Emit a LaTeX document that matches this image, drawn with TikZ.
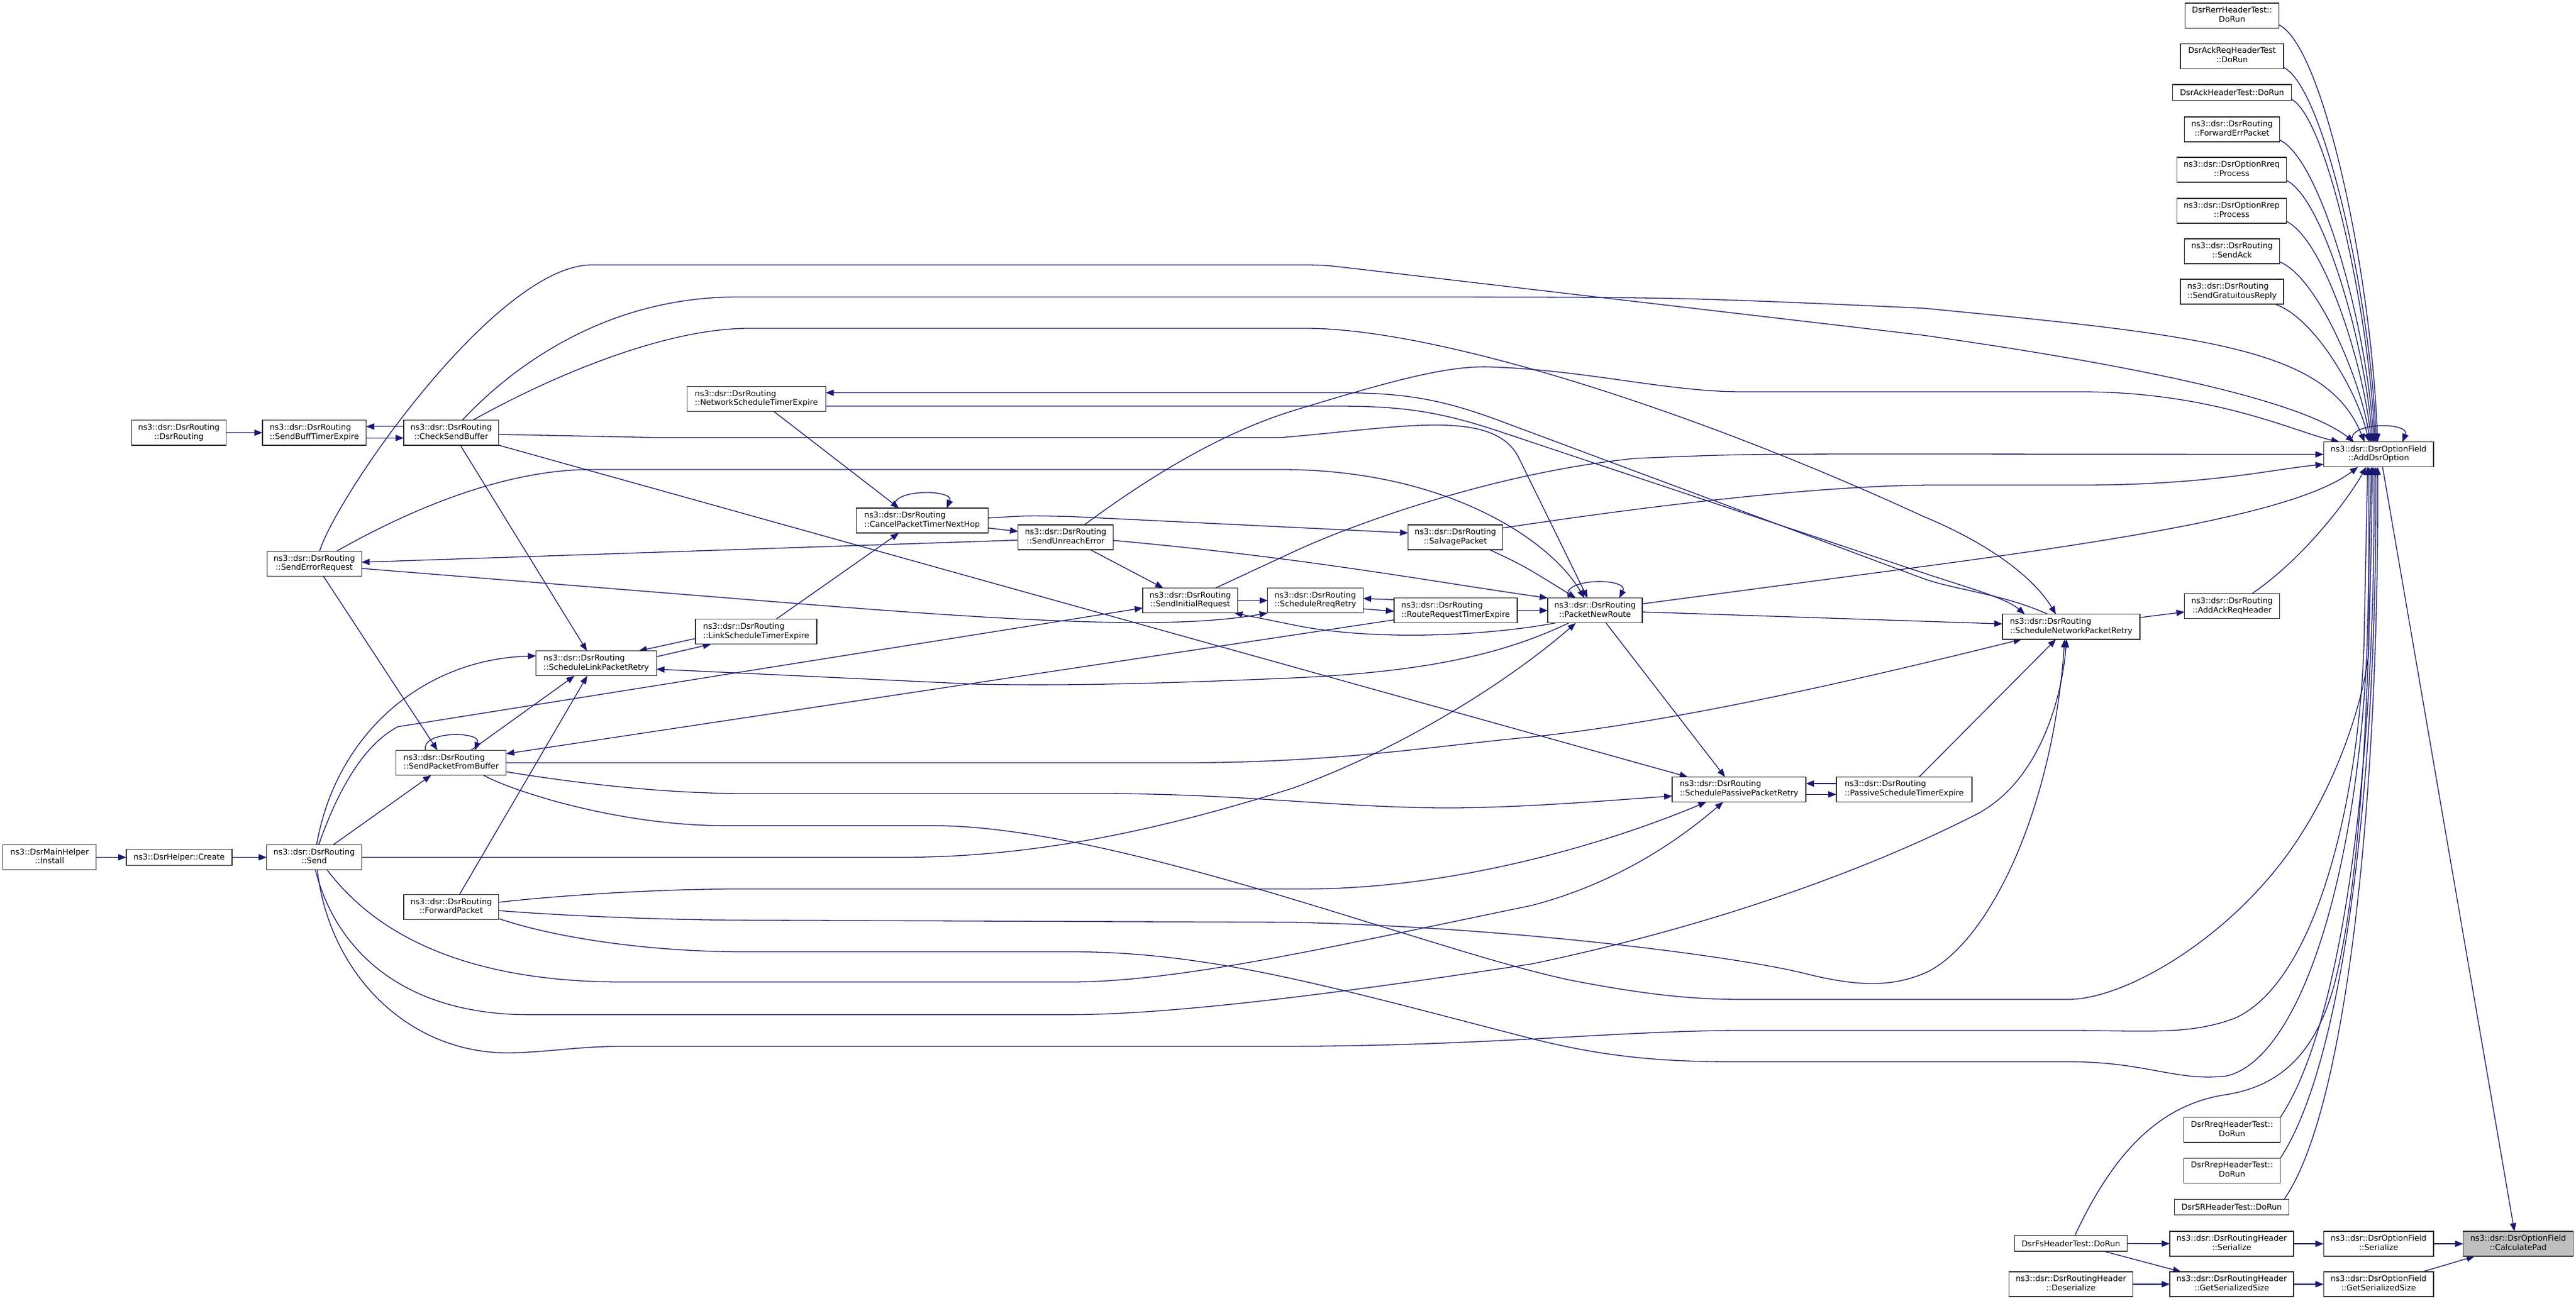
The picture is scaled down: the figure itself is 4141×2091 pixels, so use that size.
\documentclass[tikz,border=0pt]{standalone}
\usepackage{fontspec}
\setmainfont{DejaVu Sans}
\usetikzlibrary{arrows.meta}
\definecolor{edgecol}{HTML}{191970}
\definecolor{boxline}{HTML}{2E2E2E}
\definecolor{hlfill}{HTML}{BFBFBF}
\newcommand\twol[2]{\begin{tabular}{@{}l@{}}#1\\\multicolumn{1}{@{}c@{}}{#2}\end{tabular}}
\pgfdeclarelayer{bglayer}
\pgfdeclarelayer{edgelayer}
\pgfsetlayers{bglayer,edgelayer,main}
\begin{document}
\begin{tikzpicture}[x=1pt,y=-1pt,
  fnode/.style={draw=boxline, line width=1.3pt, fill=white, inner sep=0pt, outer sep=0pt, minimum height=40.2pt, font=\fontsize{12.8}{14.8}\selectfont},
  fnodeone/.style={fnode, minimum height=25.4pt},
  callarrow/.style={draw=edgecol, line width=1.3pt, -{Triangle[length=13pt,width=10pt]}}]
\begin{pgfonlayer}{bglayer}
\fill[white] (0,0) rectangle (4141,2091);
\end{pgfonlayer}
\useasboundingbox (0,0) rectangle (4141,2091);
% ---------------- nodes ----------------
\node[fnode, minimum width=152pt] (dsrr) at (287.6,695.8) {\twol{ns3::dsr::DsrRouting}{::DsrRouting}};
\node[fnode, minimum width=166.7pt] (sbte) at (505.2,695.8) {\twol{ns3::dsr::DsrRouting}{::SendBuffTimerExpire}};
\node[fnode, minimum width=152.7pt] (csb) at (725.3,695.8) {\twol{ns3::dsr::DsrRouting}{::CheckSendBuffer}};
\node[fnode, minimum width=152pt] (ser) at (505.2,906.5) {\twol{ns3::dsr::DsrRouting}{::SendErrorRequest}};
\node[fnode, minimum width=223pt] (nste) at (1215.8,641.5) {\twol{ns3::dsr::DsrRouting}{::NetworkScheduleTimerExpire}};
\node[fnode, minimum width=212.3pt] (cptnh) at (1482.3,837) {\twol{ns3::dsr::DsrRouting}{::CancelPacketTimerNextHop}};
\node[fnode, minimum width=152.7pt] (sue) at (1713,864) {\twol{ns3::dsr::DsrRouting}{::SendUnreachError}};
\node[fnode, minimum width=152.6pt] (sir) at (1913.3,965.6) {\twol{ns3::dsr::DsrRouting}{::SendInitialRequest}};
\node[fnode, minimum width=195pt] (lste) at (1215.5,1015.7) {\twol{ns3::dsr::DsrRouting}{::LinkScheduleTimerExpire}};
\node[fnode, minimum width=153.5pt] (srr) at (2114.5,965.6) {\twol{ns3::dsr::DsrRouting}{::ScheduleRreqRetry}};
\node[fnode, minimum width=152pt] (salv) at (2339.6,864) {\twol{ns3::dsr::DsrRouting}{::SalvagePacket}};
\node[fnode, minimum width=198.2pt] (rrte) at (2340,981.7) {\twol{ns3::dsr::DsrRouting}{::RouteRequestTimerExpire}};
\node[fnode, minimum width=152pt] (pnr) at (2564,981.7) {\twol{ns3::dsr::DsrRouting}{::PacketNewRoute}};
\node[fnode, minimum width=151.4pt] (rerr) at (3588,25.1) {\twol{DsrRerrHeaderTest::}{DoRun}};
\node[fnode, minimum width=166pt] (ackreq) at (3588,90.4) {\twol{DsrAckReqHeaderTest}{::DoRun}};
\node[fnodeone, minimum width=190.8pt] (ack) at (3588,148.7) {DsrAckHeaderTest::DoRun};
\node[fnode, minimum width=152.7pt] (fep) at (3588,208) {\twol{ns3::dsr::DsrRouting}{::ForwardErrPacket}};
\node[fnode, minimum width=176pt] (rreqp) at (3587.5,273) {\twol{ns3::dsr::DsrOptionRreq}{::Process}};
\node[fnode, minimum width=176pt] (rrepp) at (3587.5,339) {\twol{ns3::dsr::DsrOptionRrep}{::Process}};
\node[fnode, minimum width=152.7pt] (sack) at (3588,404) {\twol{ns3::dsr::DsrRouting}{::SendAck}};
\node[fnode, minimum width=166pt] (sgr) at (3588,469) {\twol{ns3::dsr::DsrRouting}{::SendGratuitousReply}};
\node[fnode, minimum width=176.8pt] (ado) at (3823.6,730.6) {\twol{ns3::dsr::DsrOptionField}{::AddDsrOption}};
\node[fnode, minimum width=152.7pt] (aarh) at (3588,974.7) {\twol{ns3::dsr::DsrRouting}{::AddAckReqHeader}};
\node[fnode, minimum width=221pt] (snpr) at (3329.4,1007.8) {\twol{ns3::dsr::DsrRouting}{::ScheduleNetworkPacketRetry}};
\node[fnode, minimum width=193.6pt] (slpr) at (958.5,1066.7) {\twol{ns3::dsr::DsrRouting}{::ScheduleLinkPacketRetry}};
\node[fnode, minimum width=176.8pt] (spfb) at (725.2,1226.5) {\twol{ns3::dsr::DsrRouting}{::SendPacketFromBuffer}};
\node[fnode, minimum width=150pt] (install) at (79.7,1378.5) {\twol{ns3::DsrMainHelper}{::Install}};
\node[fnodeone, minimum width=170pt] (create) at (288,1378.5) {ns3::DsrHelper::Create};
\node[fnode, minimum width=152.7pt] (send) at (505,1378.5) {\twol{ns3::dsr::DsrRouting}{::Send}};
\node[fnode, minimum width=152.7pt] (fwd) at (725.3,1458.5) {\twol{ns3::dsr::DsrRouting}{::ForwardPacket}};
\node[fnode, minimum width=215pt] (sppr) at (2795.6,1269.4) {\twol{ns3::dsr::DsrRouting}{::SchedulePassivePacketRetry}};
\node[fnode, minimum width=218pt] (paste) at (3061,1269.4) {\twol{ns3::dsr::DsrRouting}{::PassiveScheduleTimerExpire}};
\node[fnode, minimum width=155.4pt] (rreqh) at (3588,1816.8) {\twol{DsrRreqHeaderTest::}{DoRun}};
\node[fnode, minimum width=155.4pt] (rreph) at (3588,1882.4) {\twol{DsrRrepHeaderTest::}{DoRun}};
\node[fnodeone, minimum width=184pt] (srh) at (3587.5,1941) {DsrSRHeaderTest::DoRun};
\node[fnodeone, minimum width=181.5pt] (fsh) at (3329,1999.3) {DsrFsHeaderTest::DoRun};
\node[fnode, minimum width=199pt] (rhser) at (3587.5,2000) {\twol{ns3::dsr::DsrRoutingHeader}{::Serialize}};
\node[fnode, minimum width=176.8pt] (ofser) at (3823.6,2000) {\twol{ns3::dsr::DsrOptionField}{::Serialize}};
\node[fnode, minimum width=176.8pt, fill=hlfill] (cpad) at (4048,2000) {\twol{ns3::dsr::DsrOptionField}{::CalculatePad}};
\node[fnode, minimum width=199pt] (rhdes) at (3329,2065) {\twol{ns3::dsr::DsrRoutingHeader}{::Deserialize}};
\node[fnode, minimum width=199pt] (rhgss) at (3587.5,2065) {\twol{ns3::dsr::DsrRoutingHeader}{::GetSerializedSize}};
\node[fnode, minimum width=176.8pt] (ofgss) at (3823.6,2065) {\twol{ns3::dsr::DsrOptionField}{::GetSerializedSize}};
% ---------------- edges ----------------
\begin{pgfonlayer}{edgelayer}
\draw[callarrow] (dsrr) -- (sbte);
\draw[callarrow] ([yshift=10pt]csb.west) -- ([yshift=10pt]sbte.east);
\draw[callarrow] ([yshift=-8.5pt]sbte.east) -- ([yshift=-8.5pt]csb.west);
\draw[callarrow] (install) -- (create);
\draw[callarrow] (create) -- (send);
% SendErrorRequest
\draw[callarrow] ([xshift=8.4pt]ser.north) .. controls (545,790) and (800,426) .. (951,426) -- (2080,426) .. controls (2127,426) .. (2175,431.6) -- (3091,539) .. controls (3450,590) and (3700,645) .. ([xshift=-39.6pt]ado.north);
\draw[callarrow] ([xshift=35.8pt]ser.north) .. controls (640,830) and (800,755) .. (950,755) -- (2060,755) .. controls (2320,755) and (2490,865) .. ([xshift=-17pt]pnr.north);
\draw[callarrow] ([yshift=-4.5pt]sue.west) -- ([yshift=2.5pt]ser.east);
\draw[callarrow] ([yshift=-7.5pt]ser.east) -- (1300,972) .. controls (1700,1004) and (1900,1010) .. (srr.south west);
\draw[callarrow] ([xshift=14.8pt]ser.south) -- ([xshift=-22pt]spfb.north);
% CheckSendBuffer
\draw[callarrow] ([xshift=17.7pt]csb.north) .. controls (800,615) and (950,478) .. (1184,477.5) -- (2300,477.5) .. controls (2700,478) .. (3091,495.5) .. controls (3550,540) and (3740,560) .. ([xshift=-22.6pt]ado.north);
\draw[callarrow] ([xshift=34.7pt]csb.north) .. controls (850,625) and (1050,528) .. (1204,528) -- (2100,528) .. controls (2300,528) and (2700,650) .. (3091,830) .. controls (3200,875) and (3270,930) .. ([xshift=-24.4pt]snpr.north);
\draw[callarrow] ([yshift=-2.7pt]csb.east) -- (1050,703.5) -- (2060,703.5) .. controls (2250,688) and (2401.7,654.6) .. (2441.7,736.6) -- ([xshift=-12pt]pnr.north);
\draw[callarrow] (csb.south east) -- ([xshift=-82.6pt]sppr.north);
\draw[callarrow] ([xshift=14.7pt]csb.south) -- ([xshift=-15pt]slpr.north);
% NetworkScheduleTimerExpire
\draw[callarrow] ([xshift=28.2pt]nste.south) -- ([xshift=-37.3pt]cptnh.north);
\draw[callarrow] ([xshift=-37.4pt]snpr.north) .. controls (3220,955) and (3140,948) .. (3091,930) -- (2420,680) .. controls (2320,642) and (2260,631.5) .. (2150,631.5) -- ([yshift=10pt]nste.east);
\draw[callarrow] ([yshift=-11.5pt]nste.east) -- (2150,653) .. controls (2260,653) and (2320,663) .. (2420,697) -- (3091,921) .. controls (3170,947) and (3225,962) .. ([xshift=-74.4pt]snpr.north);
% CancelPacketTimerNextHop
\draw[callarrow] ([xshift=-42.5pt]cptnh.north) .. controls (1425,786) and (1535,786) .. ([xshift=39.7pt]cptnh.north);
\draw[callarrow] ([yshift=4pt]cptnh.east) .. controls (1650,829) .. (1720,830.5) -- ([yshift=7pt]salv.west);
\draw[callarrow] ([yshift=-12pt]cptnh.east) -- ([yshift=9.5pt]sue.west);
\draw[callarrow] ([xshift=32.1pt]lste.north) -- ([xshift=-37.3pt]cptnh.south);
% SendUnreachError
\draw[callarrow] ([xshift=30pt]sue.north) .. controls (1830,780) and (1950,700) .. (2080,660) .. controls (2250,608) and (2330,588) .. (2395,590) .. controls (2550,595) and (2680,630) .. (2800,630) -- (3345,630) .. controls (3560,630) and (3690,695) .. ([xshift=-63pt]ado.north);
\draw[callarrow] ([yshift=-5pt]sue.east) .. controls (2100,897) and (2300,935) .. (pnr.north west);
\draw[callarrow] ([xshift=40pt]sue.south) -- ([xshift=-43.3pt]sir.north);
% SendInitialRequest
\draw[callarrow] (sir.east) -- (srr.west);
\draw[callarrow] ([xshift=40.7pt]sir.north) -- (2080,887) .. controls (2170,845) and (2400,760) .. (2629,737) .. controls (2800,730) .. (3110,730) -- (ado.west);
% ScheduleRreqRetry / RouteRequestTimerExpire
\draw[callarrow] ([yshift=17.4pt]rrte.west) -- ([yshift=3.3pt]srr.east);
\draw[callarrow] ([yshift=-13.4pt]srr.east) -- ([yshift=-1.3pt]rrte.west);
\draw[callarrow] (rrte.east) -- (pnr.west);
\draw[callarrow] ([yshift=-15pt]rrte.west) -- ([yshift=14.5pt]spfb.east);
% PacketNewRoute / SalvagePacket
\draw[callarrow] ([xshift=-42.3pt]pnr.north) .. controls (2505,928.4) and (2620,928.4) .. ([xshift=39pt]pnr.north);
\draw[callarrow] ([xshift=55.4pt]salv.south) .. controls (2450,910) .. ([xshift=-31pt]pnr.north);
\draw[callarrow] ([yshift=15pt]salv.east) .. controls (2700,806) and (2950,780) .. (3110,780) -- (3345,780) .. controls (3550,780) and (3650,755) .. ([yshift=-16pt]ado.west);
\draw[callarrow] ([yshift=10.7pt]pnr.east) -- (3091,911) .. controls (3450,863) and (3700,820) .. ([xshift=-33pt]ado.south);
\draw[callarrow] ([yshift=-2.3pt]pnr.east) -- ([yshift=4.6pt]snpr.west);
\draw[callarrow] ([xshift=12pt]pnr.south west) .. controls (2380,1024) and (2200,1030) .. (2080,1005) -- ([xshift=-5.3pt]sir.south east);
\draw[callarrow] ([xshift=-42.3pt]pnr.south) .. controls (2420,1050) and (2300,1080) .. (2080,1090) .. controls (1850,1100) and (1700,1103) .. (1566,1100) -- ([yshift=-9.3pt]slpr.east);
\draw[callarrow] ([xshift=17.7pt]pnr.south) -- ([xshift=-22.6pt]sppr.north);
% Send
\draw[callarrow] ([xshift=4pt]send.north) .. controls (540,1180) and (680,1060) .. ([yshift=12pt]slpr.west);
\draw[callarrow] ([xshift=7.3pt]send.north) .. controls (540,1280) and (580,1200) .. (639.5,1168.6) -- ([yshift=-12pt]sir.west);
\draw[callarrow] ([xshift=30.7pt]send.north) -- ([xshift=-32.2pt]spfb.south);
\draw[callarrow] (send.east) -- (1450,1378.5) .. controls (1650,1378.5) and (1850,1340) .. (2080,1266.7) .. controls (2250,1205) and (2420,1100) .. ([xshift=-31pt]pnr.south);
\draw[callarrow] ([xshift=20.7pt]send.south) .. controls (580,1470) and (700,1579) .. (1000,1579) -- (1720,1579) .. controls (1900,1579) and (2150,1520) .. (2462,1456) .. controls (2600,1420) and (2700,1350) .. ([xshift=-25.6pt]sppr.south);
\draw[callarrow] ([xshift=2pt]send.south) .. controls (540,1530) and (650,1631.6) .. (850,1631.6) -- (1720,1631.6) .. controls (1900,1631.6) and (2200,1590) .. (2462,1550) .. controls (2750,1490) and (3000,1400) .. (3178,1309) .. controls (3280,1255) and (3315,1120) .. ([xshift=-7.4pt]snpr.south);
\draw[callarrow] ([xshift=5pt]send.south) .. controls (530,1570) and (660,1695) .. (820,1693) .. controls (880,1692) and (930,1682.5) .. (1000,1682.5) -- (2060,1682.5) .. controls (2400,1682) and (2600,1657) .. (2800,1657) -- (3325,1657) .. controls (3450,1657) and (3520,1665) .. (3593,1637) .. controls (3720,1580) and (3790,1300) .. (3800,1041) -- ([xshift=-17.6pt]ado.south);
% ForwardPacket
\draw[callarrow] ([xshift=13.3pt]fwd.north) -- ([xshift=-14.5pt]slpr.south);
\draw[callarrow] ([yshift=7.7pt]fwd.east) .. controls (900,1440) and (1050,1429.4) .. (1197,1429.4) -- (2100,1429.4) .. controls (2350,1429) and (2600,1350) .. ([xshift=-52.6pt]sppr.south);
\draw[callarrow] ([yshift=-5.7pt]fwd.east) .. controls (900,1472) and (1050,1479) .. (1197,1479.6) -- (2080,1483) .. controls (2450,1492) and (2800,1540) .. (2900,1565) .. controls (2980,1585) and (3040,1590) .. (3100,1562) .. controls (3200,1510) and (3300,1300) .. ([xshift=-10.4pt]snpr.south);
\draw[callarrow] ([yshift=1.5pt]fwd.south east) .. controls (900,1510) and (1050,1530.5) .. (1197,1530.5) -- (1720,1530.5) .. controls (1950,1530) and (2150,1590) .. (2462,1670) .. controls (2600,1705) and (2700,1707.3) .. (2800,1707.3) -- (3325,1707.3) .. controls (3450,1707) and (3500,1740) .. (3580,1730) .. controls (3700,1700) and (3790,1400) .. (3805,1041) -- ([xshift=-11.6pt]ado.south);
% SendPacketFromBuffer
\draw[callarrow] ([xshift=52pt]spfb.south) .. controls (830,1275) and (1000,1327.6) .. (1164,1327.6) -- (1499,1327.6) .. controls (1800,1328) and (2300,1530) .. (2529,1577) .. controls (2650,1600) and (2720,1607) .. (2800,1607) -- (3325,1607) .. controls (3420,1607) and (3600,1500) .. (3700,1340) .. controls (3770,1230) and (3805,1100) .. (3808,1041) -- ([xshift=-15.6pt]ado.south);
\draw[callarrow] (spfb.east) -- (1900,1226.5) .. controls (2150,1226.5) and (2300,1200) .. (2462,1185) .. controls (2700,1160) and (3000,1090) .. ([xshift=31pt]snpr.south west);
\draw[callarrow] ([yshift=-14.5pt]spfb.east) .. controls (900,1255) and (1050,1276) .. (1197,1276) -- (1767,1276) .. controls (2000,1276) and (2150,1299) .. (2328,1299) .. controls (2450,1299) and (2600,1286) .. ([yshift=-10.6pt]sppr.west);
\draw[callarrow] ([xshift=-41pt]spfb.north) .. controls (675,1175) and (775,1175) .. ([xshift=38pt]spfb.north);
\draw[callarrow] ([xshift=31.8pt]spfb.north) -- ([xshift=-35pt]slpr.south);
% LinkScheduleTimerExpire
\draw[callarrow] ([yshift=-11pt]lste.west) -- ([xshift=-28.6pt]slpr.north east);
\draw[callarrow] ([yshift=10.7pt]slpr.east) -- ([xshift=25pt]lste.south west);
% passive / network retry
\draw[callarrow] ([yshift=9.4pt]paste.west) -- ([yshift=9.4pt]sppr.east);
\draw[callarrow] ([yshift=-8pt]sppr.east) -- ([yshift=-8pt]paste.west);
\draw[callarrow] ([xshift=24pt]paste.north) -- ([xshift=-24.4pt]snpr.south);
\draw[callarrow] ([yshift=14.8pt]snpr.east) -- ([yshift=-9.3pt]aarh.west);
\draw[callarrow] ([xshift=32pt]aarh.north) .. controls (3700,900) and (3770,810) .. ([xshift=-19.6pt]ado.south);
% AddDsrOption
\draw[callarrow] ([xshift=-42pt]ado.north) .. controls (3770,678) and (3875,678) .. ([xshift=38.5pt]ado.north);
\draw[callarrow] ([xshift=6.4pt]ado.south) -- ([xshift=-6pt]cpad.north);
% top test callers
\draw[callarrow] ([yshift=-15pt]rerr.east) .. controls (3735,75) and (3812,440) .. ([xshift=-1.6pt]ado.north);
\draw[callarrow] ([yshift=-18pt]ackreq.east) .. controls (3735,140) and (3809,470) .. ([xshift=-3.6pt]ado.north);
\draw[callarrow] ([yshift=2pt]ack.south east) .. controls (3740,190) and (3806,490) .. ([xshift=-5.6pt]ado.north);
\draw[callarrow] ([yshift=-17pt]fep.east) .. controls (3730,255) and (3804,520) .. ([xshift=-7.6pt]ado.north);
\draw[callarrow] ([yshift=-17pt]rreqp.east) .. controls (3735,320) and (3801,550) .. ([xshift=-9.6pt]ado.north);
\draw[callarrow] ([yshift=-17pt]rrepp.east) .. controls (3735,385) and (3798,580) .. ([xshift=-11.6pt]ado.north);
\draw[callarrow] ([yshift=-17pt]sack.east) .. controls (3725,445) and (3795,610) .. ([xshift=-13.6pt]ado.north);
\draw[callarrow] ([xshift=-14pt]sgr.south east) .. controls (3720,510) and (3790,630) .. ([xshift=-15.6pt]ado.north);
% bottom test callers
\draw[callarrow] (rreqh.north east) .. controls (3770,1640) and (3820,1200) .. ([xshift=-7.6pt]ado.south);
\draw[callarrow] (rreph.north east) .. controls (3772,1700) and (3822,1230) .. ([xshift=-4.6pt]ado.south);
\draw[callarrow] ([xshift=-7.6pt]srh.north east) .. controls (3775,1780) and (3825,1260) .. ([xshift=-1.6pt]ado.south);
\draw[callarrow] ([xshift=6.4pt]fsh.north) .. controls (3390,1870) and (3460,1780) .. (3573,1761) .. controls (3650,1750) and (3720,1710) .. (3754,1577) .. controls (3790,1430) and (3808,1200) .. ([xshift=-10pt]ado.south);
% right cluster
\draw[callarrow] (rhser) -- (ofser);
\draw[callarrow] (ofser) -- (cpad);
\draw[callarrow] (rhgss) -- (ofgss);
\draw[callarrow] ([xshift=-17.4pt]ofgss.north east) -- ([xshift=18.5pt]cpad.south west);
\draw[callarrow] (fsh) -- (rhser);
\draw[callarrow] ([xshift=53pt]fsh.south) -- ([xshift=18pt]rhgss.north west);
\draw[callarrow] (rhdes) -- (rhgss);
\end{pgfonlayer}
\end{tikzpicture}
\end{document}
